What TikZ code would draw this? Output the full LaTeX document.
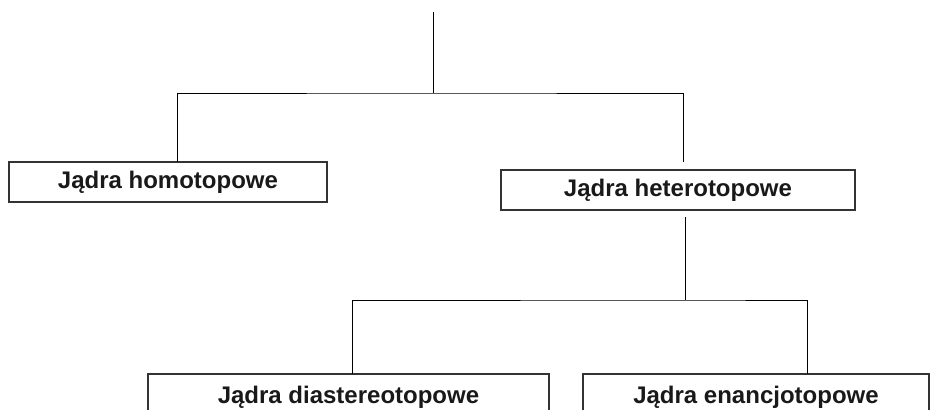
\documentclass[tikz,border=0pt]{standalone}
\usepackage{fontspec}
\setmainfont{Liberation Sans}
\begin{document}
\begin{tikzpicture}[x=1pt,y=-1pt,
  box/.style={draw=black!80,line width=1.2pt,rectangle,minimum height=40pt,inner sep=0pt,
    font=\fontsize{24}{28}\selectfont\bfseries,text=black!90},
  conn/.style={draw=black,line width=1pt}]
\useasboundingbox (0,0) rectangle (930,410);
\clip (0,0) rectangle (930,410);
\node[box,minimum width=318pt] (homo) at (168,182) {\raisebox{-1.5pt}{Jądra homotopowe}};
\node[box,minimum width=354pt] (hetero) at (678,190) {\raisebox{-1.5pt}{Jądra heterotopowe}};
\node[box,minimum width=401pt,minimum height=60pt] (dia) at (348.5,404) {\raisebox{19pt}{Jądra diastereotopowe}};
\node[box,minimum width=346pt,minimum height=60pt] (enan) at (756,404) {\raisebox{19pt}{Jądra enancjotopowe}};
\coordinate (top) at (433,12);
\coordinate (bar1) at (433,93);
\coordinate (hl) at (177,162);
\coordinate (hr) at (683,162);
\coordinate (b2) at (685,217);
\coordinate (bar2) at (685,300);
\coordinate (dl) at (352,374);
\coordinate (dr) at (807,374);
\draw[conn] (top) -- (bar1);
\draw[conn] (hl) |- (bar1) -| (hr);
\draw[conn] (b2) -- (bar2);
\draw[conn] (dl) |- (bar2) -| (dr);
\end{tikzpicture}
\end{document}
